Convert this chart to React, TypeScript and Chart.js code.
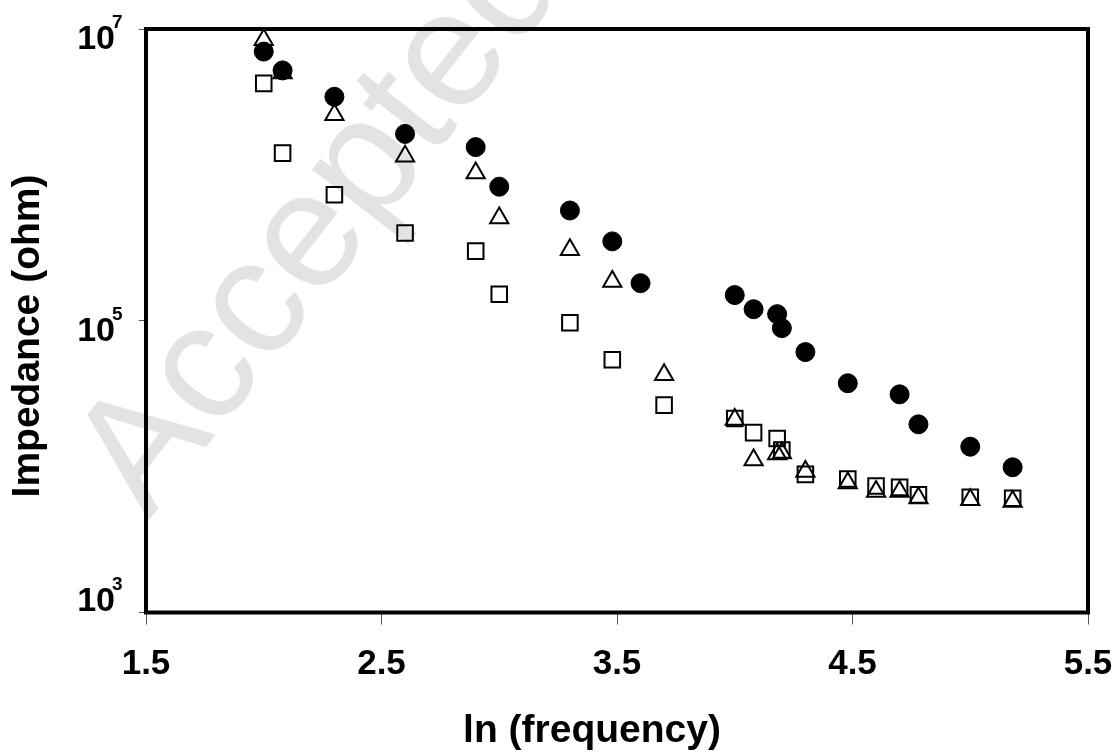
import React, { useEffect, useRef } from 'react';
import { Chart, registerables } from 'chart.js';

Chart.register(...registerables);

// ---- data ----
const circleX = [2.0, 2.08, 2.3, 2.6, 2.9, 3.0, 3.3, 3.48, 3.6, 4.0, 4.08, 4.18, 4.2, 4.3, 4.48, 4.7, 4.78, 5.0, 5.18];
const circleY = [7.0e6, 5.2e6, 3.43e6, 1.91e6, 1.55e6, 8.3e5, 5.7e5, 3.5e5, 1.81e5, 1.5e5, 1.2e5, 1.11e5, 8.9e4, 6.1e4, 3.73e4, 3.13e4, 1.95e4, 1.37e4, 9.9e3];

const triangleX = [2.0, 2.08, 2.3, 2.6, 2.9, 3.0, 3.3, 3.48, 3.7, 4.0, 4.08, 4.18, 4.2, 4.3, 4.48, 4.6, 4.7, 4.78, 5.0, 5.18];
const triangleY = [8.44e6, 5.0e6, 2.58e6, 1.34e6, 1.03e6, 5.06e5, 3.07e5, 1.86e5, 4.26e4, 2.1e4, 1.11e4, 1.22e4, 1.24e4, 9.27e3, 7.71e3, 6.76e3, 6.76e3, 6.09e3, 5.93e3, 5.77e3];

const squareX = [2.0, 2.08, 2.3, 2.6, 2.9, 3.0, 3.3, 3.48, 3.7, 4.0, 4.08, 4.18, 4.2, 4.3, 4.48, 4.6, 4.7, 4.78, 5.0, 5.18];
const squareY = [4.24e6, 1.41e6, 7.3e5, 4.0e5, 3.0e5, 1.52e5, 9.7e4, 5.4e4, 2.64e4, 2.14e4, 1.71e4, 1.56e4, 1.3e4, 8.85e3, 8.23e3, 7.36e3, 7.21e3, 6.4e3, 6.16e3, 6.07e3];

const xTickValues = [1.5, 2.5, 3.5, 4.5, 5.5];
const yTickValues = [1e3, 1e5, 1e7];
const yTickBase = '10';
const yTickExponents = ['3', '5', '7'];

const xTitle = 'ln (frequency)';
const yTitle = 'Impedance (ohm)';
const watermarkText = 'Accepted';

const FONT = '"Liberation Sans", Arial, Helvetica, sans-serif';

const toPoints = (xs: number[], ys: number[]) => xs.map((x, i) => ({ x, y: ys[i] }));

const overlayPlugin = {
  id: 'overlay',
  beforeDraw(chart: any) {
    const { ctx, width, height } = chart;
    ctx.save();
    ctx.fillStyle = '#ffffff';
    ctx.fillRect(0, 0, width, height);
    ctx.translate(360, 250);
    ctx.rotate((-52 * Math.PI) / 180);
    ctx.font = `165px ${FONT}`;
    ctx.fillStyle = '#e3e3e3';
    ctx.textAlign = 'center';
    ctx.textBaseline = 'alphabetic';
    ctx.fillText(watermarkText, 0, 0);
    ctx.restore();
  },
  beforeDatasetsDraw(chart: any) {
    const { ctx, chartArea } = chart;
    ctx.save();
    ctx.strokeStyle = '#000000';
    ctx.lineWidth = 4;
    ctx.lineJoin = 'miter';
    ctx.strokeRect(chartArea.left, chartArea.top, chartArea.right - chartArea.left, chartArea.bottom - chartArea.top);
    ctx.restore();
  },
  afterDraw(chart: any) {
    const { ctx, chartArea } = chart;
    const yScale = chart.scales.y;
    ctx.save();
    ctx.fillStyle = '#000000';
    ctx.textBaseline = 'alphabetic';
    yTickValues.forEach((v, i) => {
      const py = yScale.getPixelForValue(v);
      const baseY = Math.min(py + 20, chartArea.bottom - 2);
      ctx.font = `bold 34px ${FONT}`;
      ctx.textAlign = 'right';
      ctx.fillText(yTickBase, 115, baseY);
      ctx.font = `bold 19px ${FONT}`;
      ctx.textAlign = 'left';
      ctx.fillText(yTickExponents[i], 112, baseY - 21);
    });
    // axis titles
    ctx.font = `bold 39px ${FONT}`;
    ctx.textAlign = 'center';
    ctx.fillText(xTitle, 592, 742);
    ctx.save();
    ctx.translate(39, 336);
    ctx.rotate(-Math.PI / 2);
    ctx.fillText(yTitle, 0, 0);
    ctx.restore();
    ctx.restore();
  },
};

export default function App() {
  const canvasRef = useRef<HTMLCanvasElement | null>(null);

  useEffect(() => {
    if (!canvasRef.current) return;
    const chart = new Chart(canvasRef.current, {
      type: 'scatter',
      data: {
        datasets: [
          {
            label: 'circles',
            data: toPoints(circleX, circleY),
            pointStyle: 'circle',
            pointRadius: 9.5,
            pointBorderWidth: 1,
            backgroundColor: '#000000',
            borderColor: '#000000',
            clip: false as any,
          },
          {
            label: 'triangles',
            data: toPoints(triangleX, triangleY),
            pointStyle: 'triangle',
            pointRadius: 10.5,
            pointBorderWidth: 2,
            backgroundColor: 'rgba(0,0,0,0)',
            borderColor: '#000000',
            clip: false as any,
          },
          {
            label: 'squares',
            data: toPoints(squareX, squareY),
            pointStyle: 'rect',
            pointRadius: 11,
            pointBorderWidth: 2,
            backgroundColor: 'rgba(0,0,0,0)',
            borderColor: '#000000',
            clip: false as any,
          },
        ],
      },
      options: {
        responsive: false,
        animation: false,
        devicePixelRatio: 1,
        layout: { padding: { left: 0, top: 29, right: 30, bottom: 0 } },
        plugins: {
          legend: { display: false },
          tooltip: { enabled: false },
          title: { display: false },
        },
        scales: {
          x: {
            type: 'linear',
            min: 1.5,
            max: 5.5,
            afterBuildTicks: (scale: any) => {
              scale.ticks = xTickValues.map((value) => ({ value }));
            },
            afterFit: (scale: any) => {
              scale.height = 140.5;
              scale.paddingLeft = 0;
              scale.paddingRight = 0;
            },
            ticks: {
              color: '#000000',
              font: { family: FONT, size: 35, weight: 'bold' },
              padding: 19,
              maxRotation: 0,
              callback: (v: any) => Number(v).toFixed(1),
            },
            grid: {
              display: true,
              drawOnChartArea: false,
              drawTicks: true,
              tickLength: 12,
              color: '#555555',
              lineWidth: 1,
            },
            border: { display: false },
            title: { display: false },
          },
          y: {
            type: 'logarithmic',
            min: 1e3,
            max: 1e7,
            afterBuildTicks: (scale: any) => {
              scale.ticks = yTickValues.map((value) => ({ value }));
            },
            afterFit: (scale: any) => {
              scale.width = 146;
              scale.paddingTop = 0;
              scale.paddingBottom = 0;
            },
            ticks: { display: false },
            grid: {
              display: true,
              drawOnChartArea: false,
              drawTicks: true,
              tickLength: 7,
              color: '#555555',
              lineWidth: 1,
            },
            border: { display: false },
            title: { display: false },
          },
        },
      },
      plugins: [overlayPlugin],
    });
    return () => chart.destroy();
  }, []);

  return (
    <div style={{ position: 'fixed', left: 0, top: 0, width: 1118, height: 753, background: '#fff' }}>
      <canvas ref={canvasRef} width={1118} height={753} style={{ display: 'block' }} />
    </div>
  );
}
